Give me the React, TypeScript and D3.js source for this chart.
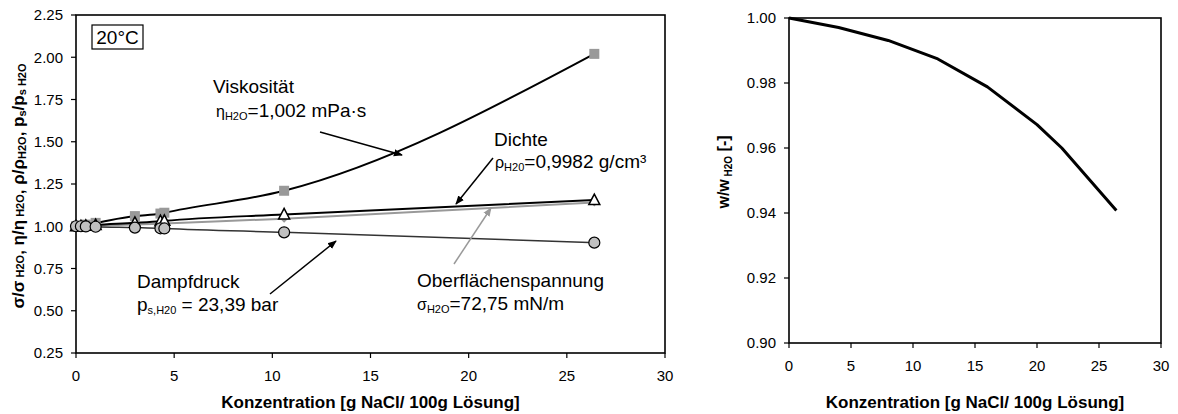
import React from "react";
import * as d3 from "d3";

// Concentration in g NaCl per 100 g solution
const conc = [0, 0.25, 0.5, 1, 3, 4.3, 4.5, 10.6, 26.4];
// Properties relative to pure water at 20 °C
const viscosity = [1.0, 1.0, 1.01, 1.02, 1.06, 1.075, 1.08, 1.21, 2.02];
const density = [1.0, 1.0, 1.003, 1.007, 1.02, 1.03, 1.032, 1.07, 1.155];
const surfaceTension = [1.0, 1.0, 1.001, 1.003, 1.01, 1.015, 1.016, 1.045, 1.14];
const vaporPressure = [1.0, 1.0, 0.999, 0.997, 0.992, 0.988, 0.987, 0.964, 0.903];

// Relative water activity curve
const concW = [0, 4, 8, 12, 16, 20, 22, 26.4];
const wRatio = [1.0, 0.9971, 0.9931, 0.9874, 0.9788, 0.9672, 0.96, 0.9408];

const leftYTicks = [0.25, 0.5, 0.75, 1.0, 1.25, 1.5, 1.75, 2.0, 2.25];
const rightYTicks = [0.9, 0.92, 0.94, 0.96, 0.98, 1.0];
const xTicks = [0, 5, 10, 15, 20, 25, 30];

const FONT = "'Liberation Sans', Arial, sans-serif";

export default function App() {
  // left panel
  const xL = d3.scaleLinear().domain([0, 30]).range([76, 665]);
  const yL = d3.scaleLinear().domain([0.25, 2.25]).range([353, 15]);
  // right panel
  const xR = d3.scaleLinear().domain([0, 30]).range([789, 1161]);
  const yR = d3.scaleLinear().domain([0.9, 1.0]).range([343, 18]);

  const lineL = (vals: number[], curve: d3.CurveFactory) =>
    d3
      .line<number>()
      .x((_, i) => xL(conc[i]))
      .y((v) => yL(v))
      .curve(curve)(vals) as string;

  const lineR = d3
    .line<number>()
    .x((_, i) => xR(concW[i]))
    .y((v) => yR(v))(wRatio) as string;

  const tri = (cx: number, cy: number, s: number) =>
    `M${cx},${cy - s * 0.6}L${cx + s * 0.55},${cy + s * 0.45}L${cx - s * 0.55},${cy + s * 0.45}Z`;

  const axes = (
    x: d3.ScaleLinear<number, number>,
    y: d3.ScaleLinear<number, number>,
    yTicks: number[],
    fmt: (v: number) => string
  ) => {
    const [x0, x1] = x.range();
    const [y0, y1] = y.range();
    return (
      <g>
        <rect x={x0} y={y1} width={x1 - x0} height={y0 - y1} fill="none" stroke="#000" strokeWidth={1.6} />
        {yTicks.map((t) => (
          <g key={"y" + t}>
            <line x1={x0 - 5} x2={x0} y1={y(t)} y2={y(t)} stroke="#000" strokeWidth={1.2} />
            <text x={x0 - 13} y={y(t) + 5.3} textAnchor="end" fontSize={15} fontFamily={FONT}>
              {fmt(t)}
            </text>
          </g>
        ))}
        {xTicks.map((t) => (
          <g key={"x" + t}>
            <line x1={x(t)} x2={x(t)} y1={y0} y2={y0 + 5} stroke="#000" strokeWidth={1.2} />
            <text x={x(t)} y={y0 + 28} textAnchor="middle" fontSize={15} fontFamily={FONT}>
              {t}
            </text>
          </g>
        ))}
        <text
          x={(x0 + x1) / 2}
          y={408}
          textAnchor="middle"
          fontSize={17}
          fontWeight="bold"
          fontFamily={FONT}
        >
          Konzentration [g NaCl/ 100g Lösung]
        </text>
      </g>
    );
  };

  const sub = { fontSize: 11, baselineShift: "-3px" } as React.CSSProperties;

  return (
    <svg
      width={1178}
      height={414}
      style={{ position: "absolute", left: 0, top: 0, background: "#fff" }}
      fontFamily={FONT}
    >
      <defs>
        <marker id="ahB" viewBox="0 0 10 10" refX="9" refY="5" markerWidth="6" markerHeight="6" orient="auto">
          <path d="M0,1L10,5L0,9Z" fill="#000" />
        </marker>
        <marker id="ahG" viewBox="0 0 10 10" refX="9" refY="5" markerWidth="6" markerHeight="6" orient="auto">
          <path d="M0,1L10,5L0,9Z" fill="#999" />
        </marker>
      </defs>

      {/* ---------- left panel ---------- */}
      {axes(xL, yL, leftYTicks, d3.format(".2f"))}

      <path d={lineL(surfaceTension, d3.curveMonotoneX)} fill="none" stroke="#999" strokeWidth={2} />
      <path d={lineL(vaporPressure, d3.curveMonotoneX)} fill="none" stroke="#333" strokeWidth={1.5} />
      <path d={lineL(density, d3.curveMonotoneX)} fill="none" stroke="#000" strokeWidth={2} />
      <path d={lineL(viscosity, d3.curveMonotoneX)} fill="none" stroke="#000" strokeWidth={2} />

      {surfaceTension.map((v, i) => (
        <path
          key={"st" + i}
          d={`M${xL(conc[i])},${yL(v) - 4}l4,4l-4,4l-4,-4Z`}
          fill="#999"
        />
      ))}
      {viscosity.map((v, i) => (
        <rect key={"vi" + i} x={xL(conc[i]) - 5} y={yL(v) - 5} width={10} height={10} fill="#999" />
      ))}
      {density.map((v, i) => (
        <path key={"de" + i} d={tri(xL(conc[i]), yL(v), 10)} fill="#fff" stroke="#000" strokeWidth={1.5} />
      ))}
      {vaporPressure.map((v, i) => (
        <circle key={"vp" + i} cx={xL(conc[i])} cy={yL(v)} r={5.5} fill="#c0c0c0" stroke="#000" strokeWidth={1.2} />
      ))}

      {/* temperature box */}
      <rect x={92} y={25} width={51} height={24} fill="#fff" stroke="#000" strokeWidth={1.2} />
      <text x={117.5} y={44} textAnchor="middle" fontSize={19}>
        20°C
      </text>

      {/* annotations */}
      <text x={213} y={93} fontSize={19}>Viskosität</text>
      <text x={216} y={117} fontSize={19}>
        <tspan fontSize={16}>η</tspan>
        <tspan style={sub}>H2O</tspan>
        <tspan>=1,002 mPa·s</tspan>
      </text>
      <line x1={320} y1={132} x2={402} y2={155} stroke="#000" strokeWidth={1.5} markerEnd="url(#ahB)" />

      <text x={494} y={146} fontSize={19}>Dichte</text>
      <text x={495} y={168} fontSize={19}>
        <tspan fontSize={16}>ρ</tspan>
        <tspan style={sub}>H20</tspan>
        <tspan>=0,9982 g/cm³</tspan>
      </text>
      <line x1={493} y1={158} x2={456} y2={204} stroke="#000" strokeWidth={1.5} markerEnd="url(#ahB)" />

      <text x={417} y={287} fontSize={19}>Oberflächenspannung</text>
      <text x={417} y={310} fontSize={19}>
        <tspan fontSize={16}>σ</tspan>
        <tspan style={sub}>H2O</tspan>
        <tspan>=72,75 mN/m</tspan>
      </text>
      <line x1={454} y1={264} x2={491} y2={208} stroke="#999" strokeWidth={1.5} markerEnd="url(#ahG)" />

      <text x={137} y={288} fontSize={19}>Dampfdruck</text>
      <text x={137} y={311} fontSize={19}>
        <tspan>p</tspan>
        <tspan style={sub}>s,H20</tspan>
        <tspan> = 23,39 bar</tspan>
      </text>
      <line x1={270} y1={294} x2={336} y2={241} stroke="#000" strokeWidth={1.5} markerEnd="url(#ahB)" />

      {/* left y-axis title */}
      <text
        transform="translate(24,186) rotate(-90)"
        textAnchor="middle"
        fontSize={17}
        fontWeight="bold"
      >
        <tspan>σ/σ</tspan>
        <tspan fontSize={11}> H2O</tspan>
        <tspan>, η/η</tspan>
        <tspan fontSize={11}> H2O</tspan>
        <tspan>, ρ/ρ</tspan>
        <tspan fontSize={11} baselineShift="-2">H2O</tspan>
        <tspan>, p</tspan>
        <tspan fontSize={11} baselineShift="-2">s</tspan>
        <tspan>/p</tspan>
        <tspan fontSize={11} baselineShift="-2">s H2O</tspan>
      </text>

      {/* ---------- right panel ---------- */}
      {axes(xR, yR, rightYTicks, d3.format(".2f"))}
      <path d={lineR} fill="none" stroke="#000" strokeWidth={3} strokeLinejoin="round" />
      <text transform="translate(729,172) rotate(-90)" textAnchor="middle" fontSize={16} fontWeight="bold">
        <tspan>w/w</tspan>
        <tspan fontSize={10} baselineShift="-3"> H2O</tspan>
        <tspan> [-]</tspan>
      </text>
    </svg>
  );
}
